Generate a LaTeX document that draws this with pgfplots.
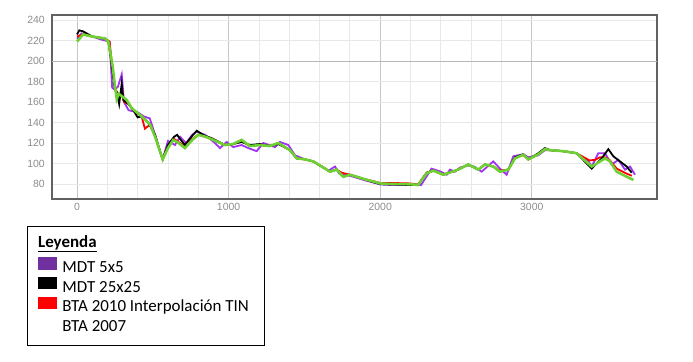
\documentclass[border=0pt]{standalone}
\usepackage{fontspec}
\setmainfont{Carlito}
\newfontfamily\tickfont{Liberation Sans}
\usepackage{pgfplots}
\pgfplotsset{compat=1.18}
\definecolor{lpurple}{RGB}{160,50,240}
\definecolor{lgreen}{RGB}{110,208,50}
\definecolor{sqpurple}{RGB}{112,48,160}
\definecolor{ticklab}{RGB}{140,140,140}
\begin{document}
\begin{tikzpicture}
\begin{axis}[
  at={(52bp,163bp)}, anchor=south west,
  scale only axis, width=605bp, height=184bp,
  xmin=-165, xmax=3826, ymin=65.3, ymax=245,
  clip=true,
  xtick={0,1000,2000,3000},
  minor x tick num=4,
  ytick={80,100,...,240},
  minor ytick={80,100,...,240},
  extra y ticks={200}, extra y tick labels={},
  extra y tick style={grid=major, major grid style={draw=black!28, line width=0.8pt}},
  xmajorgrids, xminorgrids, yminorgrids,
  major grid style={draw=black!22, line width=0.8pt},
  minor grid style={draw=black!9, line width=0.8pt},
  major tick length=0pt, minor tick length=0pt,
  tick style={draw=none},
  axis line style={draw=black!62, line width=1.5pt},
  /pgf/number format/assume math mode=true,
  /pgf/number format/1000 sep={},
  yticklabel style={inner sep=0pt, xshift=-7bp, font=\tickfont\fontsize{10.5}{12}\selectfont, text=ticklab},
  xticklabel style={inner sep=0pt, yshift=-4bp, font=\tickfont\fontsize{10.5}{12}\selectfont, text=ticklab},
  legend style={at={(-0.02314,-0.3168)}, anchor=north west, draw=none, fill=none,
    inner sep=0pt, outer sep=0pt, row sep=0.5bp,
    font=\fontsize{17}{20}\selectfont,
    nodes={inner sep=0pt, text height=12bp, text depth=4bp},
    /tikz/every odd column/.append style={column sep=6bp}},
  legend cell align=left,
]
\addlegendimage{legend image code/.code={\fill[sqpurple] (0bp,-0.5bp) rectangle (18bp,11bp);}}
\addlegendentry{MDT 5x5}
\addlegendimage{legend image code/.code={\fill[black] (0bp,-0.5bp) rectangle (18bp,11bp);}}
\addlegendentry{MDT 25x25}
\addlegendimage{legend image code/.code={\fill[red] (0bp,-0.5bp) rectangle (18bp,11bp);}}
\addlegendentry{BTA 2010 Interpolación TIN}
\addlegendimage{legend image code/.code={\path[draw=none,fill=none] (0bp,-0.5bp) rectangle (18bp,11bp);}}
\addlegendentry{BTA 2007}

% MDT 5x5
\addplot[forget plot, lpurple, line width=1.8pt] coordinates {
(0,222)(30,227)(100,224)(160,221)(215,219)(232,174)(250,172)(270,175)(295,187)(310,160)(340,152)(400,150)(440,146)(480,144)(515,128)(547,112)(565,104)(600,122)(625,120)(646,118)(680,126)(720,120)(760,128)(790,131)(844,128)(910,120)(943,115)(987,121)(1031,116)(1086,118)(1130,115)(1185,112)(1229,120)(1306,116)(1339,121)(1394,118)(1438,108)(1504,104)(1559,102)(1614,97)(1660,93)(1702,97)(1730,90)(1801,88)(1889,84)(2000,79.5)(2065,79)(2197,79)(2270,79)(2339,95)(2400,92)(2439,89)(2460,94)(2493,92)(2526,96)(2580,98)(2620,97)(2669,92)(2746,102)(2790,95)(2834,89)(2878,107)(2944,109)(2977,106)(3043,108)(3087,113)(3120,113)(3208,112)(3296,110)(3375,102)(3395,97)(3439,110)(3483,110)(3527,99)(3571,103.5)(3615,94)(3648,97)(3681,89)
};
% BTA 2010
\addplot[forget plot, red, line width=1.8pt] coordinates {
(0,224)(40,226)(100,224)(185,222)(215,219)(235,190)(255,172)(280,165)(295,172)(310,160)(340,158)(380,151)(426,146)(448,134)(482,138)(515,127)(547,112)(565,104)(600,117)(640,124)(700,118)(760,124)(800,128)(850,126)(899,123)(976,118)(1030,119)(1086,122)(1141,117)(1207,118)(1273,117)(1328,120)(1405,113)(1449,105)(1504,104)(1559,102)(1614,97)(1669,92)(1713,94)(1746,91)(1801,89)(1889,85)(2000,81)(2065,81)(2197,80.5)(2250,79.5)(2307,91)(2351,93)(2417,89)(2515,94)(2581,99)(2647,94)(2691,99)(2746,97)(2790,93)(2845,94)(2889,105)(2944,108.5)(2977,104)(3043,109)(3087,114)(3120,113)(3208,112)(3296,110)(3380,103)(3417,103.5)(3450,106)(3483,106)(3516,103)(3560,95)(3626,90)(3660,88)
};
% MDT 25x25
\addplot[forget plot, black, line width=1.8pt] coordinates {
(0,226)(15,230)(40,229)(100,224)(185,222)(207,219)(230,195)(250,172)(262,170)(278,158)(295,178)(305,162)(340,158)(380,150)(400,145)(426,146)(470,140)(515,128)(547,112)(565,104)(600,118)(640,126)(660,128)(690,122)(712,118)(760,127)(790,132)(830,128)(899,124)(976,118)(1030,119)(1086,121)(1141,118)(1207,119)(1273,117)(1328,119)(1405,113)(1449,105)(1504,104)(1559,102)(1614,97)(1669,92)(1713,94)(1757,87)(1801,89)(1889,85)(1950,82)(2000,80)(2065,79.5)(2197,79)(2250,79)(2307,91)(2351,93)(2417,89)(2515,94)(2581,99)(2647,94)(2691,99)(2746,97)(2790,92)(2845,94)(2889,106)(2944,109)(2977,104)(3043,110)(3087,115)(3120,113)(3208,112)(3296,110)(3395,95)(3461,105)(3505,114)(3538,107)(3582,102)(3626,97)(3659,91)
};
% BTA 2007
\addplot[forget plot, lgreen, line width=2.6pt] coordinates {
(0,219)(40,226)(100,224)(185,222)(207,219)(235,195)(250,176)(262,163)(275,168)(328,162)(361,154)(426,146)(482,138)(515,126)(547,112)(565,104)(600,115)(635,123)(670,120)(712,115)(760,123)(800,128)(850,126)(899,123)(976,118)(1030,119)(1086,123)(1141,117)(1207,118)(1273,117)(1328,120)(1405,113)(1449,105)(1504,104)(1559,102)(1614,97)(1669,92)(1713,94)(1757,87)(1801,89)(1889,85)(2000,80.5)(2065,80)(2197,79.7)(2250,79)(2307,90.5)(2351,93)(2417,89)(2515,94)(2581,99)(2647,94)(2691,99)(2746,97)(2790,92)(2845,94)(2889,105)(2944,108.5)(2977,104)(3043,109)(3087,114)(3120,113)(3208,112)(3296,110)(3395,97)(3428,100)(3483,105)(3516,102)(3560,92)(3626,87)(3670,84)
};
\end{axis}
\draw[line width=0.8pt] (27bp,17bp) rectangle (264bp,136bp);
\node[anchor=base west, inner sep=0pt, font=\fontsize{17}{20}\selectfont\bfseries] at (38bp,114.5bp) {\underline{Leyenda}};
\pgfresetboundingbox
\path[use as bounding box] (0,0) rectangle (693bp,362bp);
\end{tikzpicture}
\end{document}
